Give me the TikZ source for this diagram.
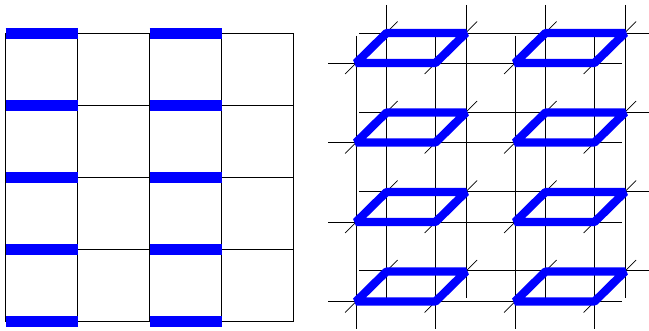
\documentclass[tikz,border=0pt]{standalone}
\definecolor{cBar}{RGB}{0,0,255}

\begin{document}
\begin{tikzpicture}[
  x=0.02cm,y=-0.02cm,
  grid/.style={line width=0.55pt,black},
  tick/.style={line width=0.4pt,black},
  bar/.style={line width=6.4pt,cBar},
  edgeloop/.style={line width=4.7pt,cBar,line join=bevel},
]
\useasboundingbox (0,0) rectangle (649,331);

% ------------------------------------------------------------------ flat grid
\foreach \i in {0,...,4} {
  \draw[grid] (5.5+72*\i,33.5) -- (5.5+72*\i,321.5);
  \draw[grid] (5.5,33.5+72*\i) -- (293.5,33.5+72*\i);
}
\foreach \i in {0,...,4}
  \foreach \j in {0,1}
    \draw[bar] (5.5+144*\j,33.5+72*\i) -- (77.5+144*\j,33.5+72*\i);

% ---------------------------------------------------------------- doubled grid
\foreach \i in {0,...,3} {
  \draw[grid] (356+79.5*\i,36) -- (356+79.5*\i,329);
  \draw[grid] (386.5+79.5*\i,5) -- (386.5+79.5*\i,298);
  \draw[grid] (328,63+79.5*\i) -- (622,63+79.5*\i);
  \draw[grid] (359,33+79.3*\i) -- (649,33+79.3*\i);
}
\foreach \i in {0,...,3}
  \foreach \j in {0,...,3}
    \draw[tick] (345+79.5*\i,74+79.5*\j) -- (397.5+79.5*\i,21.5+79.5*\j);

% one parallelogram per cell
\foreach \i in {0,1}
  \foreach \j in {0,...,3} {
    \begin{scope}[shift={(159*\i,79.5*\j)}]
      \draw[edgeloop] (356,63) -- (435.5,63) -- (466,33) -- (386.5,33) -- cycle;
    \end{scope}
  }

\end{tikzpicture}
\end{document}
